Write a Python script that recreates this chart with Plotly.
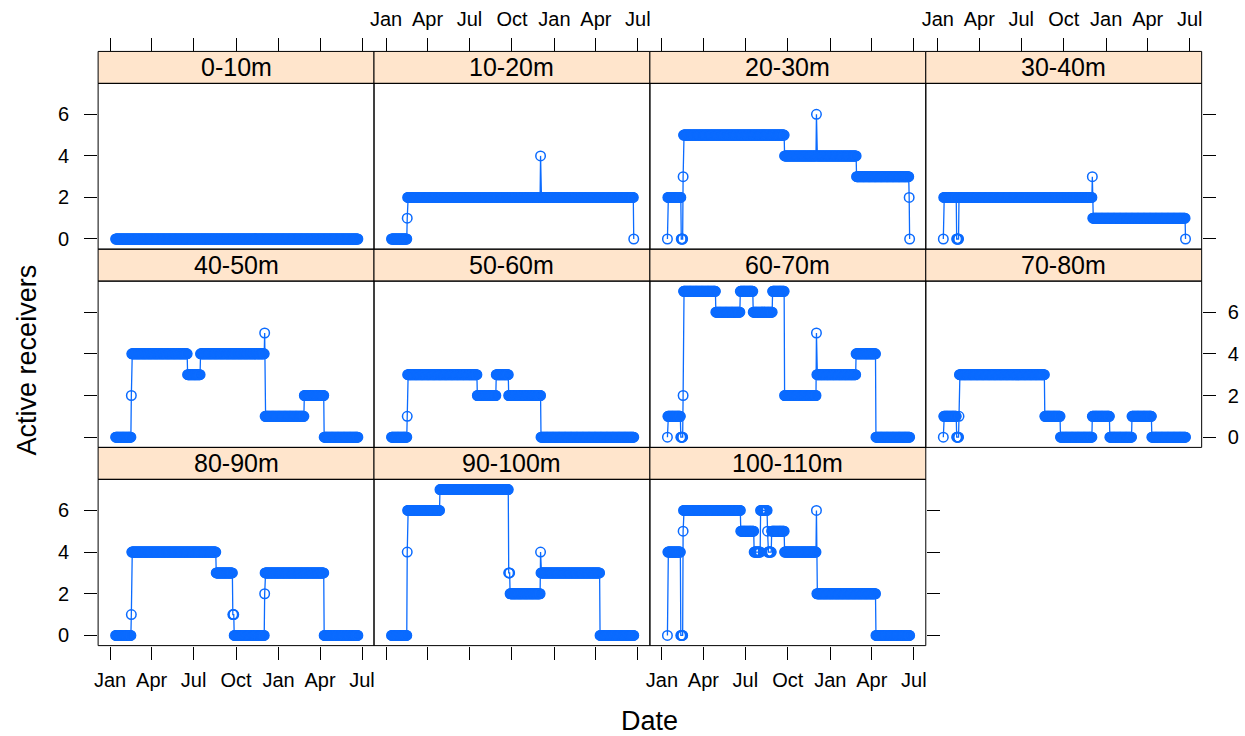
import pandas as pd
import plotly.graph_objects as go

# ---------------- data ----------------
PANELS = ["0-10m", "10-20m", "20-30m", "30-40m", "40-50m", "50-60m",
          "60-70m", "70-80m", "80-90m", "90-100m", "100-110m"]
START = "2013-01-13"
END = "2014-06-22"

# change points (date the value starts) and values, per depth bin
d_0_10 = ["2013-01-13"]
v_0_10 = [0]

d_10_20 = ["2013-01-13", "2013-02-16", "2013-02-17", "2013-12-02", "2013-12-03", "2014-06-22"]
v_10_20 = [0, 1, 2, 4, 2, 0]

d_20_30 = ["2013-01-13", "2013-01-14", "2013-02-12", "2013-02-16", "2013-02-17", "2013-09-24",
           "2013-12-02", "2013-12-03", "2014-02-27", "2014-06-21", "2014-06-22"]
v_20_30 = [0, 2, 0, 3, 5, 4, 6, 4, 3, 2, 0]

d_30_40 = ["2013-01-13", "2013-01-14", "2013-02-11", "2013-02-16", "2013-12-02", "2013-12-03", "2014-06-22"]
v_30_40 = [0, 2, 0, 2, 3, 1, 0]

d_40_50 = ["2013-01-13", "2013-02-16", "2013-02-17", "2013-06-18", "2013-07-16", "2013-12-02",
           "2013-12-03", "2014-02-26", "2014-04-10"]
v_40_50 = [0, 2, 4, 3, 4, 5, 1, 2, 0]

d_50_60 = ["2013-01-13", "2013-02-16", "2013-02-17", "2013-07-18", "2013-08-28", "2013-09-24", "2013-12-03"]
v_50_60 = [0, 1, 3, 2, 3, 2, 0]

d_60_70 = ["2013-01-13", "2013-01-14", "2013-02-11", "2013-02-16", "2013-02-17", "2013-04-28",
           "2013-06-20", "2013-07-18", "2013-08-29", "2013-09-24", "2013-12-02", "2013-12-03",
           "2014-02-26", "2014-04-10"]
v_60_70 = [0, 1, 0, 2, 7, 6, 7, 6, 7, 2, 5, 3, 4, 0]

d_70_80 = ["2013-01-13", "2013-01-14", "2013-02-11", "2013-02-16", "2013-02-17", "2013-08-21",
           "2013-09-24", "2013-12-02", "2014-01-09", "2014-02-26", "2014-04-10"]
v_70_80 = [0, 1, 0, 1, 3, 1, 0, 1, 0, 1, 0]

d_80_90 = ["2013-01-13", "2013-02-16", "2013-02-17", "2013-08-19", "2013-09-24", "2013-09-27",
           "2013-12-02", "2013-12-03", "2014-04-10"]
v_80_90 = [0, 1, 4, 3, 1, 0, 2, 3, 0]

d_90_100 = ["2013-01-13", "2013-02-16", "2013-02-17", "2013-04-28", "2013-09-24", "2013-09-27",
            "2013-12-02", "2013-12-03", "2014-04-10"]
v_90_100 = [0, 4, 6, 7, 3, 2, 4, 3, 0]

d_100_110 = ["2013-01-13", "2013-01-14", "2013-02-11", "2013-02-16", "2013-02-17", "2013-06-21",
             "2013-07-20", "2013-08-03", "2013-08-18", "2013-08-19", "2013-08-27", "2013-09-24",
             "2013-12-02", "2013-12-03", "2014-04-10"]
v_100_110 = [0, 4, 0, 5, 6, 5, 4, 6, 5, 4, 5, 4, 6, 2, 0]

CHANGE_DATES = [d_0_10, d_10_20, d_20_30, d_30_40, d_40_50, d_50_60,
                d_60_70, d_70_80, d_80_90, d_90_100, d_100_110]
CHANGE_VALUES = [v_0_10, v_10_20, v_20_30, v_30_40, v_40_50, v_50_60,
                 v_60_70, v_70_80, v_80_90, v_90_100, v_100_110]

TICK_DATES = ["2013-01-01", "2013-04-01", "2013-07-01", "2013-10-01",
              "2014-01-01", "2014-04-01", "2014-07-01"]
TICK_TEXT = ["Jan", "Apr", "Jul", "Oct", "Jan", "Apr", "Jul"]
Y_TICKS = [0, 2, 4, 6]

# ---------------- layout geometry ----------------
W, H = 1245, 736
COL_LEFT = [94.5, 371.5, 648.5, 925.5]
PANEL_W = 277
ROW_TOP = [51.5, 249.5, 448.0]
STRIP_H = 32
ROW_BOTTOM = [249.5, 448.0, 646.5]
XRANGE = ["2012-12-06", "2014-07-27"]
YRANGE = [-0.49, 7.49]
BLUE = "#0b6bff"
FONT = "Liberation Sans, Arial, Helvetica, sans-serif"


def fx(px):
    return px / W


def fy(py):
    return 1 - py / H


days = pd.date_range(START, END, freq="D")

fig = go.Figure()
shapes = []
annotations = []
layout_axes = {}

for i, name in enumerate(PANELS):
    k = i + 1
    row, col = divmod(i, 4)
    s = pd.Series(CHANGE_VALUES[i], index=pd.to_datetime(CHANGE_DATES[i]))
    y = s.reindex(days, method="ffill")

    fig.add_trace(go.Scatter(
        x=days, y=y.values, mode="lines+markers",
        line=dict(color=BLUE, width=1.3),
        marker=dict(symbol="circle-open", size=9.5, color=BLUE,
                    line=dict(width=1.5, color=BLUE)),
        xaxis=f"x{k}", yaxis=f"y{k}", showlegend=False,
        hoverinfo="x+y",
    ))

    left = COL_LEFT[col]
    right = left + PANEL_W
    strip_top = ROW_TOP[row]
    plot_top = strip_top + STRIP_H
    bottom = ROW_BOTTOM[row]
    last_in_row = (col == 3) or (i == len(PANELS) - 1)

    xa = dict(domain=[fx(left), fx(right)], range=XRANGE, type="date",
              tickvals=TICK_DATES, ticktext=TICK_TEXT, showgrid=False,
              zeroline=False, showline=False, tickcolor="black", tickwidth=1,
              tickfont=dict(family=FONT, size=20, color="black"))
    if row == 0:
        xa.update(side="top", anchor="free", position=fy(strip_top), ticks="outside",
                  ticklen=13, showticklabels=(col in (1, 3)), ticklabelstandoff=4)
    elif row == 2:
        xa.update(side="bottom", anchor=f"y{k}", ticks="outside", ticklen=13,
                  showticklabels=(col in (0, 2)), ticklabelstandoff=3)
    else:
        xa.update(anchor=f"y{k}", ticks="", showticklabels=False)

    ya = dict(domain=[fy(bottom), fy(plot_top)], range=YRANGE, anchor=f"x{k}",
              tickvals=Y_TICKS, showgrid=False, zeroline=False, showline=False,
              tickcolor="black", tickwidth=1,
              tickfont=dict(family=FONT, size=20, color="black"))
    if col == 0:
        ya.update(side="left", ticks="outside", ticklen=13, showticklabels=(row in (0, 2)),
                  ticklabelstandoff=11)
    elif last_in_row:
        ya.update(side="right", ticks="outside", ticklen=13, showticklabels=(row == 1),
                  ticklabelstandoff=8)
    else:
        ya.update(ticks="", showticklabels=False)

    layout_axes[f"xaxis{k}"] = xa
    layout_axes[f"yaxis{k}"] = ya

    # strip
    shapes.append(dict(type="rect", xref="paper", yref="paper",
                       x0=fx(left), x1=fx(right), y0=fy(plot_top), y1=fy(strip_top),
                       fillcolor="#ffe5cc", line=dict(color="black", width=1), layer="below"))
    # panel border
    shapes.append(dict(type="rect", xref="paper", yref="paper",
                       x0=fx(left), x1=fx(right), y0=fy(bottom), y1=fy(plot_top),
                       fillcolor="rgba(0,0,0,0)", line=dict(color="black", width=1), layer="above"))
    annotations.append(dict(text=name, xref="paper", yref="paper",
                            x=fx((left + right) / 2), y=fy(strip_top + STRIP_H / 2),
                            showarrow=False, xanchor="center", yanchor="middle",
                            font=dict(family=FONT, size=25, color="black")))

annotations.append(dict(text="Date", xref="paper", yref="paper", x=fx(648.5), y=fy(722),
                        showarrow=False, xanchor="center", yanchor="middle",
                        font=dict(family=FONT, size=27, color="black")))
annotations.append(dict(text="Active receivers", xref="paper", yref="paper", x=fx(23), y=fy(360),
                        showarrow=False, xanchor="center", yanchor="middle", textangle=-90,
                        font=dict(family=FONT, size=27, color="black")))

fig.update_layout(
    width=W, height=H, margin=dict(l=0, r=0, t=0, b=0),
    paper_bgcolor="white", plot_bgcolor="white",
    shapes=shapes, annotations=annotations, showlegend=False,
    **layout_axes,
)

fig.write_html(
    "out.html",
    config={"responsive": False, "displayModeBar": False},
    post_script="document.body.style.margin='0px';document.documentElement.style.overflow='hidden';",
)
